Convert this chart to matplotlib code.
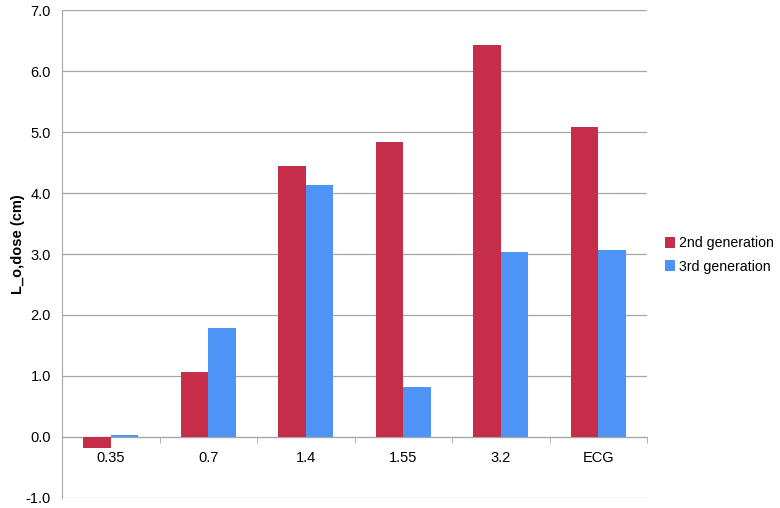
import numpy as np
import matplotlib.pyplot as plt
from matplotlib.ticker import FixedLocator

plt.rcParams['font.family'] = ['Liberation Sans', 'DejaVu Sans']

# data
categories = ["0.35", "0.7", "1.4", "1.55", "3.2", "ECG"]
gen2 = [-0.18, 1.07, 4.44, 4.84, 6.43, 5.09]
gen3 = [0.03, 1.78, 4.13, 0.82, 3.04, 3.06]
yticks = [-1.0, 0.0, 1.0, 2.0, 3.0, 4.0, 5.0, 6.0, 7.0]

red = "#C52D48"
blue = "#4D94F6"
grid_col = "#A6A6A6"

fig = plt.figure(figsize=(7.8, 5.08), dpi=100)
ax = fig.add_axes([0.0795, 0.0197, 0.75, 0.9606])

x = np.arange(len(categories))
w = 0.28
ax.bar(x - w / 2, gen2, width=w, color=red, label="2nd generation", zorder=3)
ax.bar(x + w / 2, gen3, width=w, color=blue, label="3rd generation", zorder=3)

ax.set_xlim(-0.5, len(categories) - 0.5)
ax.set_ylim(-1.0, 7.0)
ax.set_yticks(yticks)
ax.set_yticklabels([f"{v:.1f}" for v in yticks], fontsize=10.5)
ax.yaxis.grid(True, color=grid_col, linewidth=0.9, zorder=0)
ax.tick_params(axis="y", length=0, pad=8)

# category axis on the zero line
ax.spines["bottom"].set_position(("data", 0))
ax.spines["bottom"].set_color(grid_col)
ax.spines["left"].set_color(grid_col)
ax.spines["top"].set_visible(False)
ax.spines["right"].set_visible(False)
ax.set_xticks(x)
ax.set_xticklabels(categories, fontsize=10.5)
ax.tick_params(axis="x", which="major", length=0, pad=10)
ax.xaxis.set_minor_locator(FixedLocator(np.arange(-0.5, len(categories), 1.0)))
ax.tick_params(axis="x", which="minor", length=4, color=grid_col, direction="out")

ax.set_ylabel("L_o,dose (cm)", fontsize=10.5, fontweight="bold")
ax.yaxis.set_label_coords(-0.064, 0.52)

ax.legend(loc="center left", bbox_to_anchor=(1.018, 0.498), frameon=False,
          fontsize=10.2, handlelength=0.75, handleheight=0.75, handletextpad=0.25,
          labelspacing=0.65, borderpad=0.0)

fig.savefig("out.png", dpi=100)
